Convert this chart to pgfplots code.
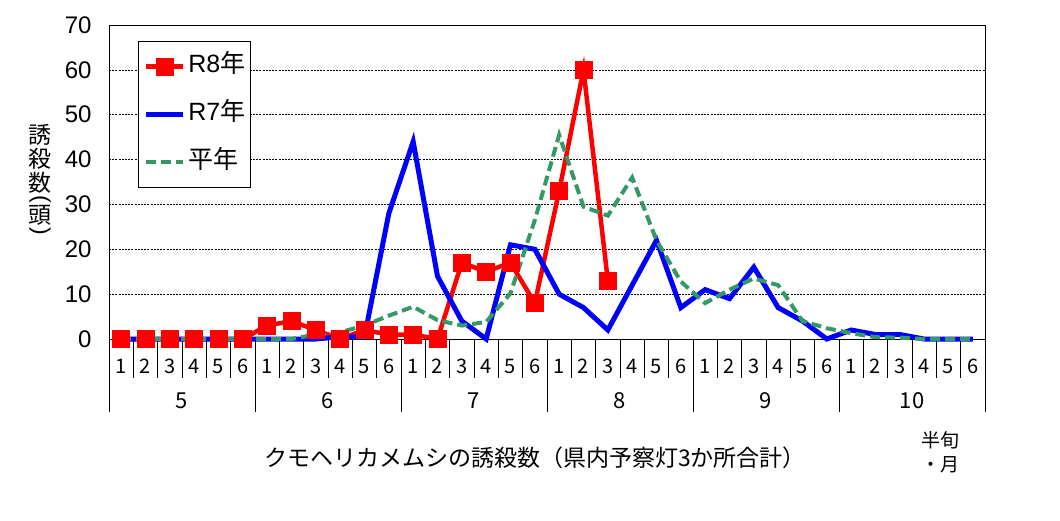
\documentclass[border=0pt]{standalone}
\usepackage{pgfplots}
\pgfplotsset{compat=1.18}
\usepackage{fontspec}
\setmainfont{Noto Sans CJK JP}
\newfontfamily\arial{Liberation Sans}
\definecolor{r8}{RGB}{255,0,0}
\definecolor{r7}{RGB}{0,0,255}
\definecolor{hei}{RGB}{51,153,102}
\begin{document}
\begin{tikzpicture}
\useasboundingbox (-109bp,-182bp) rectangle (951bp,339bp);
\begin{axis}[
  at={(0,0)}, anchor=south west,
  scale only axis, width=876bp, height=314bp,
  xmin=0.5, xmax=36.5, ymin=0, ymax=70,
  clip=false,
  axis line style={black, line width=0.8bp},
  xtick={1,...,36},
  xticklabels={1,2,3,4,5,6,1,2,3,4,5,6,1,2,3,4,5,6,1,2,3,4,5,6,1,2,3,4,5,6,1,2,3,4,5,6},
  ytick={0,10,...,70},
  major tick length=0pt,
  minor xtick={0.5,1.5,...,36.5},
  minor tick length=39bp,
  tick align=outside,
  xtick pos=bottom, ytick pos=left,
  tick style={black, line width=0.8bp},
  minor tick style={black, line width=0.8bp},
  extra x ticks={0.5,6.5,12.5,18.5,24.5,30.5,36.5},
  extra x tick labels={},
  extra x tick style={major tick length=73bp, tick align=outside, grid=none, tick style={black, line width=0.8bp}},
  ymajorgrids=true,
  grid style={black, line width=0.6bp, dash pattern=on 2bp off 1.2bp},
  /pgf/number format/assume math mode=true,
  xticklabel style={font=\fontsize{20bp}{22bp}\selectfont, anchor=center, yshift=-27bp},
  yticklabel style={font=\arial\fontsize{24bp}{26bp}\selectfont, xshift=-14bp},
  legend style={at={(0.0331,0.949)}, anchor=north west, draw=black, line width=0.8bp,
    font=\fontsize{25bp}{27bp}\selectfont, inner xsep=5bp, inner ysep=13bp,
    row sep=24bp, column sep=3bp,
    nodes={inner sep=0bp, text height=18bp, text depth=6bp}},
  legend cell align=left,
  legend image code/.code={\draw[mark repeat=2,mark phase=2,#1] plot coordinates {(0bp,0bp) (18.5bp,0bp) (37bp,0bp)};},
]
\addplot[r8, line width=4.5bp, mark=square*, mark size=8.5bp, mark options={solid, line width=0.5bp}] coordinates {
(1,0) (2,0) (3,0) (4,0) (5,0) (6,0)
(7,3) (8,4) (9,2) (10,0) (11,2) (12,1)
(13,1) (14,0) (15,17) (16,15) (17,17) (18,8)
(19,33) (20,60) (21,13)};
\addlegendentry{{\arial R8}年}
\addplot[r7, line width=5bp] coordinates {
(1,0) (2,0) (3,0) (4,0) (5,0) (6,0)
(7,0) (8,0) (9,0) (10,0.5) (11,0.5) (12,28)
(13,44) (14,14) (15,4) (16,0) (17,21) (18,20)
(19,10) (20,7) (21,2) (22,12) (23,22) (24,7)
(25,11) (26,9) (27,16) (28,7) (29,4) (30,0)
(31,2) (32,1) (33,1) (34,0) (35,0) (36,0)};
\addlegendentry{{\arial R7}年}
\addplot[hei, line width=4bp, dash pattern=on 10bp off 5bp] coordinates {
(1,0) (2,0) (3,0) (4,0) (5,0) (6,0)
(7,0) (8,0) (9,1) (10,1.5) (11,3) (12,5.2)
(13,7.2) (14,4.2) (15,3) (16,3.8) (17,10.2) (18,26.5)
(19,45.5) (20,29.5) (21,27.5) (22,36) (23,22) (24,12.8)
(25,8) (26,11) (27,13.5) (28,12) (29,4) (30,2.4)
(31,1.3) (32,0.4) (33,0.3) (34,0) (35,0) (36,0)};
\addlegendentry{平年}
\node[font=\fontsize{22bp}{24bp}\selectfont] at (axis cs:3.5,0) [yshift=-62bp] {5};
\node[font=\fontsize{22bp}{24bp}\selectfont] at (axis cs:9.5,0) [yshift=-62bp] {6};
\node[font=\fontsize{22bp}{24bp}\selectfont] at (axis cs:15.5,0) [yshift=-62bp] {7};
\node[font=\fontsize{22bp}{24bp}\selectfont] at (axis cs:21.5,0) [yshift=-62bp] {8};
\node[font=\fontsize{22bp}{24bp}\selectfont] at (axis cs:27.5,0) [yshift=-62bp] {9};
\node[font=\fontsize{22bp}{24bp}\selectfont] at (axis cs:33.5,0) [yshift=-62bp] {10};
\node[font=\fontsize{23bp}{24bp}\selectfont] at (rel axis cs:0,0) [xshift=426bp, yshift=-119bp] {クモヘリカメムシの誘殺数（県内予察灯3か所合計）};
\node[font=\fontsize{19bp}{24bp}\selectfont, align=center] at (rel axis cs:0,0) [xshift=831bp, yshift=-113bp] {半旬\\・月};
\node[font=\fontsize{23bp}{24bp}\selectfont, align=center, inner sep=0bp] at (rel axis cs:0,0) [xshift=-69bp, yshift=158bp] {誘\\殺\\数\\[-10bp]\rotatebox[origin=c]{-90}{\arial(}\\[-6bp]頭\\[-10bp]\rotatebox[origin=c]{-90}{\arial)}};
\end{axis}
\end{tikzpicture}
\end{document}
